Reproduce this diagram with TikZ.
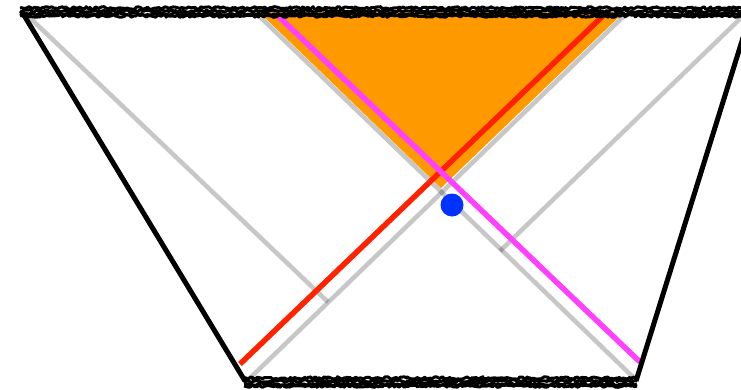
\documentclass[tikz,border=0pt]{standalone}
\usetikzlibrary{decorations.pathmorphing}
\definecolor{regionorange}{RGB}{255,153,0}
\definecolor{rayred}{RGB}{255,34,0}
\definecolor{raymagenta}{RGB}{255,64,255}
\definecolor{pointblue}{RGB}{0,51,255}
\tikzset{
  boundary/.style={line width=5pt, black},
  horizon/.style={line width=4.5pt, black, opacity=0.22},
  ray/.style={line width=5.5pt},
  singularity/.style={line width=3pt, black, line join=round, decorate,
    decoration={random steps, segment length=2pt, amplitude=1.3pt}}
}
\begin{document}
\begin{tikzpicture}[x=1pt,y=-1pt]
\pgfmathsetseed{7}
\useasboundingbox (0,0) rectangle (741,389);
\clip (0,0) rectangle (741,389);
\coordinate (tl) at (22,12);
\coordinate (tr) at (751,12);
\coordinate (bl) at (245,381);
\coordinate (br) at (636,381);
\fill[regionorange] (259,12) -- (441,188) -- (624,12) -- cycle;
\draw[horizon] (255,12) -- (634,378);
\draw[horizon] (248,380) -- (628,12);
\draw[horizon] (28,16) -- (328,302);
\draw[horizon] (745,14) -- (500,251);
\draw[ray, rayred] (240,364) -- (607,12);
\draw[ray, raymagenta] (275,13) -- (640,362);
\fill[pointblue] (452,205) circle (11.5);
\draw[boundary] (tl) -- (bl);
\draw[boundary] (br) -- (tr);
\foreach \y in {8,11,14,16}
  \draw[singularity] (20,\y) -- (745,\y);
\foreach \y in {378,381,384,386}
  \draw[singularity] (244,\y) -- (637,\y);
\end{tikzpicture}
\end{document}
